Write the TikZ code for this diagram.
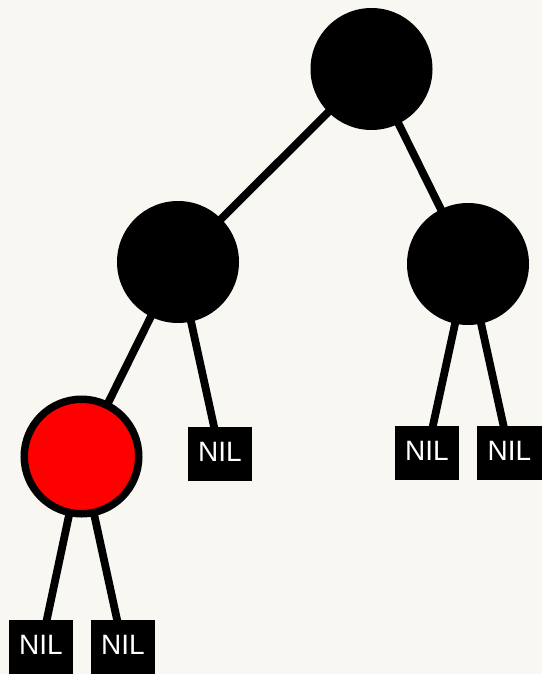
\documentclass[tikz,border=0pt]{standalone}
\usepackage{fontspec}
\newfontfamily\nilfont{Liberation Sans}
\usetikzlibrary{backgrounds}
\pgfdeclarelayer{paper}
\pgfsetlayers{paper,background,main}
\definecolor{bgcol}{HTML}{F9F7F2}
\definecolor{nodered}{HTML}{FF0000}
\begin{document}
\begin{tikzpicture}[x=1pt,y=-1pt,
  blacknode/.style={circle,fill=black,minimum size=122pt,inner sep=0pt},
  rednode/.style={circle,fill=nodered,draw=black,line width=7.5pt,minimum size=114.5pt,inner sep=0pt},
  nilbox/.style={rectangle,fill=black,text=white,minimum width=64pt,minimum height=54pt,inner sep=0pt,text height=20pt,text depth=6pt,font=\nilfont\fontsize{28}{28}\selectfont},
  edge/.style={line width=7.8pt,black}]
\begin{pgfonlayer}{paper}
\fill[bgcol] (0,0) rectangle (542,674);
\end{pgfonlayer}
\useasboundingbox (0,0) rectangle (542,674);
\node[blacknode] (root) at (371.5,69) {};
\node[blacknode] (l) at (178,262) {};
\node[blacknode] (r) at (468,264) {};
\node[rednode] (red) at (81.5,456.5) {};
\node[nilbox] (n1) at (41,647) {NIL};
\node[nilbox] (n2) at (123,647) {NIL};
\node[nilbox] (n3) at (220,454) {NIL};
\node[nilbox] (n4) at (427,453) {NIL};
\node[nilbox,minimum width=65pt] (n5) at (509.5,453) {NIL};
\begin{scope}[on background layer]
\draw[edge] (root.center) -- (l.center);
\draw[edge] (root.center) -- (r.center);
\draw[edge] (l.center) -- (red.center);
\draw[edge] (l.center) -- (n3.center);
\draw[edge] (r.center) -- (n4.center);
\draw[edge] (r.center) -- (n5.center);
\draw[edge] (red.center) -- (n1.center);
\draw[edge] (red.center) -- (n2.center);
\end{scope}
\end{tikzpicture}
\end{document}
